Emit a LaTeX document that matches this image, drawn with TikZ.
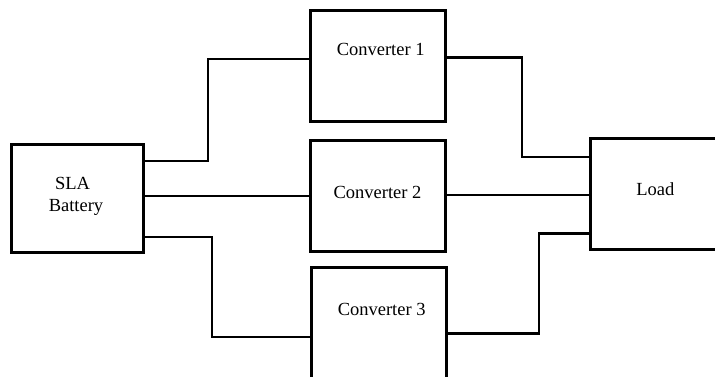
\documentclass[tikz,border=0pt]{standalone}
\usepackage{fontspec}
\setmainfont{Liberation Serif}
\begin{document}
\begin{tikzpicture}[x=1pt,y=-1pt,
  blk/.style={draw,line width=3pt,rectangle,inner sep=0pt,outer sep=0pt},
  lbl/.style={anchor=base,inner sep=0pt,font=\fontsize{18.5}{22}\selectfont},
  wire/.style={line width=2.7pt,line join=miter,line cap=rect}]
\useasboundingbox (0,0) rectangle (715,376);
\clip (0,0) rectangle (715,376);
\fill[white] (0,0) rectangle (715,376);
% boxes
\node[blk,minimum width=132pt,minimum height=108pt] (bat) at (77,198) {};
\node[blk,minimum width=135pt,minimum height=111pt] (c1) at (377.5,66.3) {};
\node[blk,minimum width=134.5pt,minimum height=111.5pt] (c2) at (378,195.8) {};
\node[blk,minimum width=134.7pt,minimum height=111pt] (c3) at (379.3,323) {};
\node[blk,minimum width=135pt,minimum height=111pt] (load) at (657.5,193.8) {};
% labels
\node[lbl] (t1) at (380.7,55) {Converter 1};
\node[lbl] (t2) at (377.5,198) {Converter 2};
\node[lbl] (t3) at (381.7,315) {Converter 3};
\node[lbl] (tl) at (655.3,195.7) {Load};
\node[lbl] (ts) at (72.5,189) {SLA};
\node[lbl] (tb) at (76,211.7) {Battery};
% wires battery -> converters
\draw[wire] (bat.east |- 0,161) -- (208,161) -- (208,59) -- (c1.west |- 0,59);
\draw[wire] (bat.east |- 0,196) -- (c2.west |- 0,196);
\draw[wire] (bat.east |- 0,237) -- (212,237) -- (212,337) -- (c3.west |- 0,337);
% wires converters -> load
\draw[wire] (c1.east |- 0,57.5) -- (522,57.5) -- (522,157) -- (load.west |- 0,157);
\draw[wire] (c2.east |- 0,195) -- (load.west |- 0,195);
\draw[wire] (c3.east |- 0,333.5) -- (539,333.5) -- (539,233.5) -- (load.west |- 0,233.5);
\end{tikzpicture}
\end{document}
